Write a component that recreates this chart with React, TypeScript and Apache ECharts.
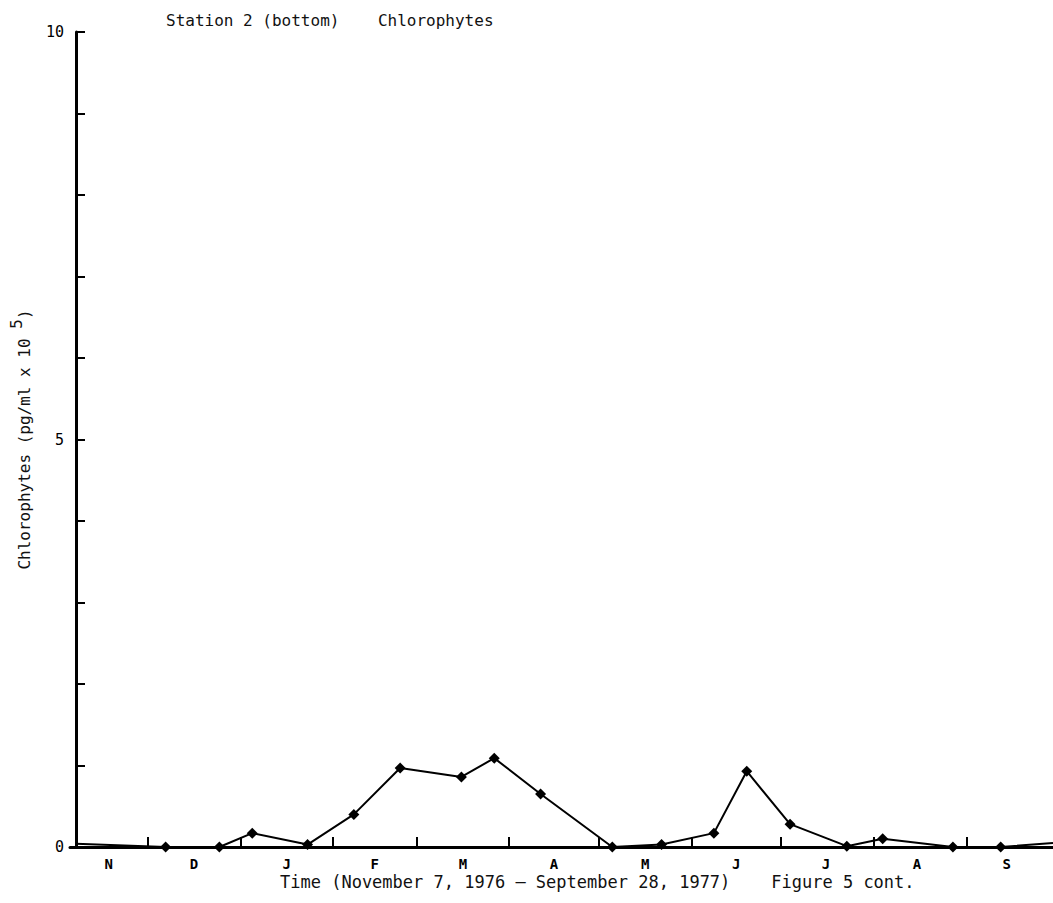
import React, { useEffect, useRef } from "react";
import * as echarts from "echarts";

// Days since November 7, 1976
const sampleDays = [0, 30, 48, 59, 77.5, 93, 108.5, 129, 140, 155.5, 179.5, 196, 213.5, 224.5, 239, 258, 270, 293.5, 309.5, 327];
const chlorophytes = [0.04, 0, 0, 0.17, 0.03, 0.4, 0.97, 0.86, 1.09, 0.65, 0, 0.03, 0.17, 0.93, 0.28, 0.01, 0.1, 0, 0, 0.05];
const markedPoints = [false, true, true, true, true, true, true, true, true, true, true, true, true, true, true, true, true, true, true, false];

const monthStartDays = [24, 55, 86, 114, 145, 175, 206, 236, 267, 298];
const monthLabelDays = [11, 39.5, 70.5, 100, 129.5, 160, 190.5, 221, 251, 281.5, 311.5];
const monthLabels = ["N", "D", "J", "F", "M", "A", "M", "J", "J", "A", "S"];

const yLabelValues = [0, 5, 10];

const FONT = "'DejaVu Sans Mono', monospace";

export default function App() {
  const ref = useRef<HTMLDivElement>(null);
  useEffect(() => {
    document.body.style.margin = "0";
    const chart = echarts.init(ref.current!, null, { renderer: "svg" });
    const data = sampleDays.map((d, i) => {
      const item: any = { value: [d, chlorophytes[i]] };
      if (!markedPoints[i]) item.symbol = "none";
      return item;
    });
    chart.setOption({
      animation: false,
      backgroundColor: "#ffffff",
      textStyle: { fontFamily: FONT, color: "#000" },
      grid: { left: 70, right: 0, top: 32, bottom: 56, containLabel: false, outerBoundsMode: "none" },
      title: {
        text: "Station 2 (bottom)    Chlorophytes",
        left: 161,
        top: 7,
        textStyle: { fontFamily: FONT, fontSize: 16, fontWeight: "normal", color: "#111" },
      },
      graphic: [
        {
          type: "text",
          left: 280,
          top: 873,
          style: {
            text: "Time (November 7, 1976 \u2014 September 28, 1977)    Figure 5 cont.",
            font: "17px 'DejaVu Sans Mono', monospace",
            fill: "#111",
          },
        },
      ],
      xAxis: {
        type: "value",
        min: -2,
        max: 327,
        splitLine: { show: false },
        axisLine: { show: true, onZero: false, lineStyle: { color: "#000", width: 3 } },
        axisTick: {
          show: true,
          inside: true,
          length: 10,
          customValues: monthStartDays,
          lineStyle: { color: "#000", width: 2 },
        },
        axisLabel: {
          show: true,
          customValues: monthLabelDays,
          formatter: (v: number) => {
            const i = monthLabelDays.indexOf(v);
            return i >= 0 ? monthLabels[i] : "";
          },
          margin: 10,
          fontFamily: FONT,
          fontSize: 14,
          fontWeight: "bold",
          color: "#000",
        },
      },
      yAxis: {
        type: "value",
        min: 0,
        max: 10,
        interval: 1,
        splitLine: { show: false },
        axisLine: { show: true, lineStyle: { color: "#000", width: 3 } },
        axisTick: { show: true, inside: true, length: 9, lineStyle: { color: "#000", width: 2 } },
        axisLabel: {
          customValues: yLabelValues,
          margin: 6,
          fontFamily: FONT,
          fontSize: 15,
          color: "#000",
        },
        name: "{n|Chlorophytes (pg/ml x 10 }{sup|5}{n|)}",
        nameLocation: "middle",
        nameRotate: 90,
        nameGap: 38,
        nameTextStyle: {
          fontFamily: FONT,
          fontSize: 16,
          color: "#111",
          rich: {
            n: { fontFamily: FONT, fontSize: 16, lineHeight: 24, verticalAlign: "bottom", color: "#111" },
            sup: { fontFamily: FONT, fontSize: 16, lineHeight: 18, verticalAlign: "top", color: "#111" },
          },
        },
      },
      series: [
        {
          type: "line",
          data,
          symbol: "diamond",
          symbolSize: 11,
          showSymbol: true,
          lineStyle: { color: "#000", width: 2 },
          itemStyle: { color: "#000" },
          z: 5,
        },
      ],
    });
    return () => chart.dispose();
  }, []);
  return <div ref={ref} style={{ width: 1053, height: 903 }} />;
}
